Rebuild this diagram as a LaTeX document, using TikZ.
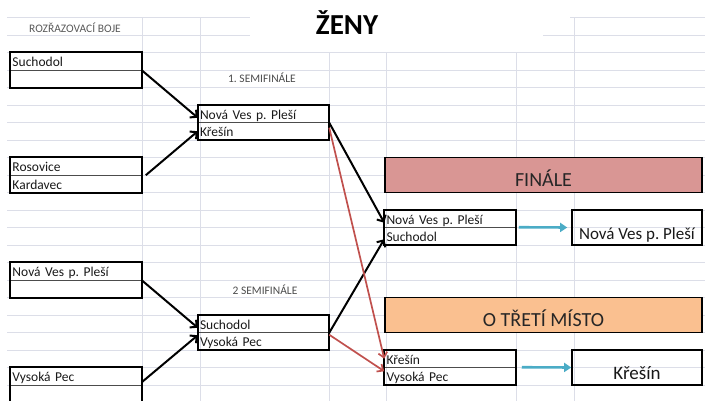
\documentclass[tikz,border=0pt]{standalone}
\usepackage{fontspec}
\setmainfont{Carlito}
\usepackage{xcolor}
\usepackage{tikz}
\usetikzlibrary{arrows.meta,calc}

\definecolor{gridgray}{HTML}{DCDEE8}
\definecolor{finred}{HTML}{D99694}
\definecolor{thirdorange}{HTML}{FAC090}
\definecolor{losered}{HTML}{C0504D}
\definecolor{advblue}{HTML}{4BACC6}
\definecolor{labelgray}{HTML}{595959}
\frenchspacing

\begin{document}
\begin{tikzpicture}[x=1pt,y=1pt,
    gridline/.style={draw=gridgray, line width=0.6pt},
    cell/.style={draw=black!70, line width=0.5pt, minimum height=17.5pt, text width=127pt,
        inner xsep=2pt, inner ysep=0pt, align=left, text height=12pt, text depth=0.5pt,
        font=\fontsize{13.5}{15}\selectfont, text=black!90},
    frame/.style={draw=black, line width=1.8pt},
    headbox/.style={draw=black, line width=1.6pt, minimum width=317pt, minimum height=35pt,
        inner sep=0pt, text height=24pt, text depth=1pt, font=\fontsize{20}{24}\selectfont, text=black!85},
    winbox/.style={draw=black, line width=1.6pt, minimum width=130pt, minimum height=35pt,
        inner sep=0pt, text height=27pt, text depth=2pt, text=black!90},
    smalllabel/.style={font=\fontsize{11.5}{14}\selectfont, text=labelgray},
    winarrow/.style={draw=black, line width=2pt, -{Straight Barb[length=5pt,width=10pt]}},
    losearrow/.style={draw=losered, line width=1.7pt, -{Straight Barb[length=5pt,width=9pt]}},
    advarrow/.style={draw=advblue, line width=2.6pt, -{Triangle[length=7pt,width=9pt]}}]
    \clip (0,0) rectangle (705,401);

    % Sheet grid
    \foreach \k in {3,...,22}
        \draw[gridline] (7,401-17.5*\k) -- (705,401-17.5*\k);
    \draw[gridline] (7,383.5) -- (250,383.5) (570,383.5) -- (705,383.5);
    \draw[gridline] (7,366) -- (250,366) (543,366) -- (705,366);
    \draw[gridline] (7,348.5) -- (300,348.5) (517,348.5) -- (705,348.5);
    \foreach \x in {142,200,574}
        \draw[gridline] (\x,383.5) -- (\x,0);
    \foreach \x in {329,386,516}
        \draw[gridline] (\x,348.5) -- (\x,0);

    % Titles
    \node[font=\bfseries\fontsize{29}{32}\selectfont, anchor=base] (title) at (347,366) {ŽENY};
    \node[smalllabel] (rounds) at (75,373) {ROZŘAZOVACÍ BOJE};
    \node[smalllabel, text=black!70] (semi1) at (262,323) {1. SEMIFINÁLE};
    \node[smalllabel, text=black!70] (semi2) at (265,111) {2 SEMIFINÁLE};

    % Rozrazovaci boje
    \node[cell] (r1a) at (76,339.75) {Suchodol};
    \node[cell] (r1b) at (76,322.25) {};
    \node[cell] (r2a) at (76,234.75) {Rosovice};
    \node[cell] (r2b) at (76,217.25) {Kardavec};
    \node[cell] (r3a) at (76,129.75) {Nová Ves p. Pleší};
    \node[cell] (r3b) at (76,112.25) {};
    \node[cell] (r4a) at (76,24.75) {Vysoká Pec};
    \node[cell] (r4b) at (76,7.25) {};

    % Semifinale
    \node[cell] (s1a) at (263.5,287.25) {Nová Ves p. Pleší};
    \node[cell] (s1b) at (263.5,269.75) {Křešín};
    \node[cell] (s2a) at (263.5,77.25) {Suchodol};
    \node[cell] (s2b) at (263.5,59.75) {Vysoká Pec};

    % Finale and third place
    \node[headbox, fill=finred] (fin) at (543.5,226) {FINÁLE};
    \node[headbox, fill=thirdorange] (third) at (543.5,86) {O TŘETÍ MÍSTO};
    \node[cell] (f1a) at (450,182.25) {Nová Ves p. Pleší};
    \node[cell] (f1b) at (450,164.75) {Suchodol};
    \node[cell] (t1a) at (450,42.25) {Křešín};
    \node[cell] (t1b) at (450,24.75) {Vysoká Pec};
    \node[winbox, font=\fontsize{17}{20}\selectfont] (w1) at (637,173.5) {Nová Ves p. Pleší};
    \node[winbox, font=\fontsize{19}{22}\selectfont] (w2) at (637,33.5) {Křešín};

    \foreach \a/\b in {r1a/r1b, r2a/r2b, r3a/r3b, r4a/r4b, s1a/s1b, s2a/s2b, f1a/f1b, t1a/t1b}
        \draw[frame] (\a.north west) rectangle (\b.south east);

    % Winners
    \draw[winarrow] (r1a.south east) -- ([yshift=-4pt]s1a.west);
    \draw[winarrow] ([xshift=4pt]r2a.south east) -- (s1b.west);
    \draw[winarrow] (r3a.south east) -- ([yshift=-4pt]s2a.west);
    \draw[winarrow] ([yshift=3pt]r4a.south east) -- ([yshift=6pt]s2b.west);
    \draw[winarrow] (s1a.south east) -- ([yshift=-4pt]f1a.west);
    \draw[winarrow] (s2a.south east) -- ([yshift=-3pt]f1b.west);

    % Losers
    \draw[losearrow] ([yshift=-5pt]s1a.south east) -- (t1a.west);
    \draw[losearrow] ([yshift=-2pt]s2a.south east) -- ([yshift=5pt]t1b.west);

    % Results
    \draw[advarrow] ([xshift=3pt]f1b.north east) -- ([xshift=-4pt]w1.west);
    \draw[advarrow] ([xshift=6pt]t1b.north east) -- (w2.west);
\end{tikzpicture}
\end{document}
